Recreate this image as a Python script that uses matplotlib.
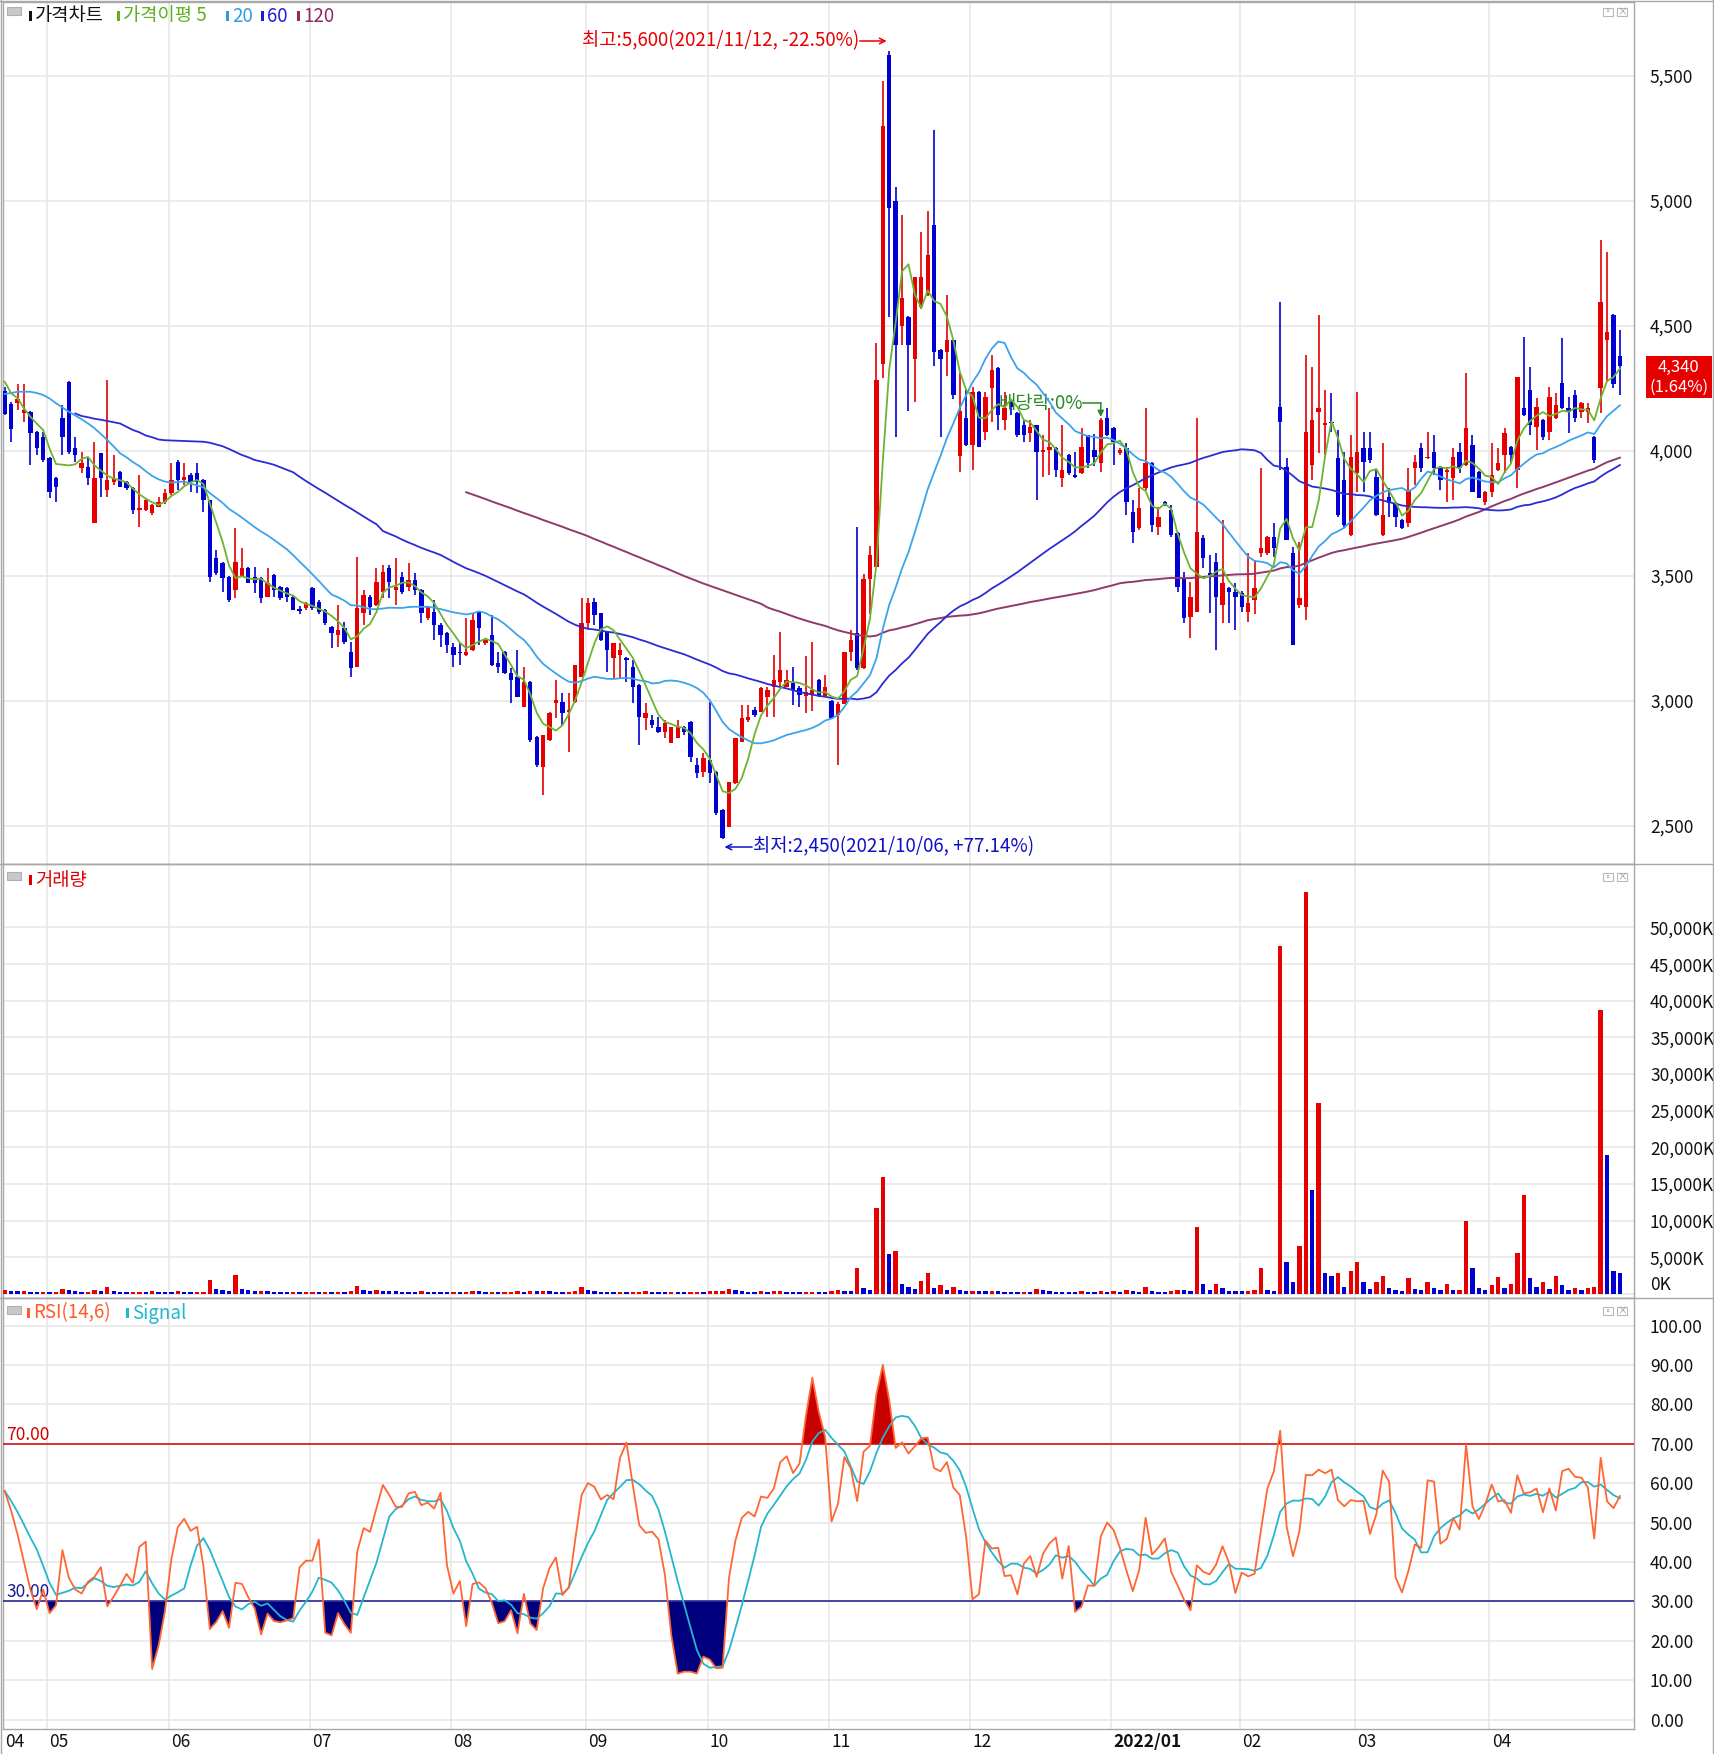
import numpy as np
import pandas as pd
import matplotlib
matplotlib.use("Agg")
import matplotlib.pyplot as plt
from matplotlib.patches import Rectangle
from matplotlib.lines import Line2D

plt.rcParams['font.family'] = ['Noto Sans CJK KR', 'DejaVu Sans']

# ---------------- data: daily candles (open, high, low, close) ----------------
apr21 = [(4240,4255,4145,4150),(4190,4195,4037,4090),(4191,4270,4164,4210),(4151,4270,4117,4164),
         (4157,4160,3944,4071),(4077,4080,3984,4011),(4057,4077,3957,3964)]
may21 = [(3971,3975,3811,3837),(3891,3895,3797,3857),(4131,4184,3984,4057),(4277,4280,3990,3997),
         (4011,4057,3957,3984),(3931,3997,3911,3951),(3937,3977,3864,3891),(3711,4037,3711,3891),
         (3991,3991,3817,3891),(3844,4284,3817,3884),(3877,3984,3864,3891),(3917,3920,3857,3857),
         (3877,3880,3845,3851),(3851,3855,3750,3764),(3764,3904,3697,3771),(3764,3810,3760,3804),
         (3751,3790,3745,3784),(3777,3817,3777,3797),(3797,3850,3790,3831)]
jun21 = [(3831,3951,3825,3884),(3957,3964,3844,3884),(3884,3951,3864,3897),(3904,3911,3837,3877),
         (3911,3951,3831,3877),(3884,3887,3757,3804),(3804,3806,3477,3497),(3571,3604,3505,3511),
         (3551,3555,3437,3491),(3497,3500,3397,3404),(3444,3691,3411,3557),(3497,3611,3495,3531),
         (3531,3535,3471,3471),(3497,3537,3431,3471),(3491,3495,3391,3411),(3417,3531,3415,3471),
         (3504,3507,3417,3444),(3457,3461,3404,3411),(3451,3455,3397,3417),(3417,3420,3364,3364),
         (3370,3380,3350,3360),(3371,3395,3365,3391)]
jul21 = [(3451,3455,3364,3371),(3397,3404,3350,3357),(3364,3370,3305,3311),(3297,3301,3211,3271),
         (3264,3384,3217,3284),(3291,3317,3230,3237),(3197,3237,3097,3131),(3137,3577,3137,3371),
         (3351,3444,3304,3424),(3417,3424,3344,3377),(3384,3531,3380,3477),(3437,3544,3411,3517),
         (3531,3544,3411,3477),(3444,3571,3384,3457),(3497,3517,3430,3437),(3457,3551,3440,3484),
         (3484,3511,3424,3444),(3444,3450,3311,3351),(3331,3380,3325,3377),(3357,3404,3244,3304),
         (3304,3311,3217,3264),(3271,3275,3191,3224)]
aug21 = [(3217,3231,3137,3184),(3197,3231,3144,3191),(3184,3331,3180,3197),(3204,3351,3200,3324),
         (3357,3357,3224,3291),(3231,3250,3225,3244),(3264,3344,3140,3144),(3151,3197,3111,3137),
         (3197,3200,3107,3111),(3111,3131,2991,3084),(3097,3204,3015,3017),(2977,3137,2975,3077),
         (3077,3080,2837,2844),(2857,2860,2737,2744),(2737,2864,2624,2864),(2844,2957,2840,2951),
         (2991,3084,2931,3004),(2997,3031,2904,2951),(2957,3031,2797,2964),(2997,3144,2994,3144),
         (3097,3411,3095,3311)]
sep21 = [(3311,3411,3291,3391),(3397,3411,3304,3344),(3351,3351,3240,3244),(3277,3277,3117,3204),
         (3171,3233,3091,3231),(3184,3231,3091,3204),(3171,3175,3077,3164),(3137,3164,2991,3057),
         (3064,3067,2824,2937),(2931,2991,2884,2951),(2924,2944,2891,2904),(2897,2937,2871,2877),
         (2877,2924,2851,2911),(2831,2897,2831,2897),(2851,2924,2851,2897),(2897,2900,2864,2877),
         (2917,2920,2757,2777),(2744,2771,2691,2711),(2717,2791,2697,2771)]
oct21 = [(2764,2997,2671,2711),(2717,2720,2545,2551),(2564,2567,2450,2451),(2497,2677,2495,2677),
         (2671,2851,2668,2851),(2837,2984,2835,2931),(2924,2984,2918,2937),(2964,2975,2937,2944),
         (2957,3057,2955,3051),(3017,3057,2937,3044),(3057,3184,2937,3084),(3077,3277,3057,3124),
         (3057,3124,3055,3084),(3071,3137,2984,3044),(3051,3060,2977,3024),(3020,3179,2953,3037),
         (3030,3236,2962,3045),(3085,3090,3015,3019),(3019,3104,3015,3056)]
nov21 = [(3000,3005,2930,2934),(2943,2995,2745,2990),(2990,3198,2988,3198),(3198,3283,3160,3245),
         (3274,3698,3123,3132),(3132,3509,3130,3490),(3490,3622,3349,3585),(3538,4434,3535,4283),
         (4349,5481,4292,5302),(5585,5600,4538,4972),(5000,5057,4057,4424),(4500,4943,4424,4613),
         (4538,4540,4160,4424),(4368,4698,4198,4698),(4575,4877,4570,4698),(4623,4962,4620,4783),
         (4906,5283,4340,4396),(4406,4410,4057,4368),(4396,4623,4300,4443),(4443,4446,4207,4226),
         (3981,4311,3915,4160),(4131,4244,4020,4024)]
dec21 = [(4024,4257,3924,4237),(4237,4240,4015,4017),(4077,4237,4044,4217),(4251,4384,4117,4324),
         (4331,4335,4084,4144),(4124,4237,4084,4171),(4204,4210,4144,4177),(4151,4155,4057,4064),
         (4104,4124,4037,4064),(4071,4124,4037,4097),(4104,4104,3804,3997),(3997,4064,3897,4004),
         (4004,4171,3904,4017),(4011,4017,3897,3924),(3891,4104,3857,3924),(3984,3990,3904,3911),
         (3904,3997,3891,3897),(3911,4091,3910,4017),(4064,4064,3931,3951),(4004,4070,3940,3977),
         (3951,4131,3917,4124),(4131,4171,4060,4064)]
jan22 = [(4091,4095,3944,4037),(3991,4011,3985,4004),(4011,4031,3744,3797),(3757,3804,3631,3677),
         (3691,3851,3684,3771),(3851,4171,3844,3951),(3951,3955,3677,3704),(3697,3777,3664,3737),
         (3797,3800,3780,3784),(3764,3784,3657,3664),(3671,3675,3437,3457),(3491,3517,3311,3331),
         (3337,3477,3251,3417),(3357,4131,3355,3677),(3651,3664,3531,3571),(3511,3584,3351,3504),
         (3557,3591,3204,3417),(3384,3724,3311,3471),(3454,3457,3311,3437),(3437,3471,3284,3417)]
feb22 = [(3431,3440,3357,3377),(3357,3591,3317,3391),(3404,3564,3350,3451),(3591,3931,3577,3614),
         (3591,3660,3585,3657),(3657,3711,3577,3611),(4177,4597,3924,4117),(3937,3971,3644,3644),
         (3591,3617,3224,3224),(3384,3637,3371,3411),(3377,4384,3324,4077),(3944,4337,3884,4124),
         (4157,4544,3991,4171),(4104,4244,3984,4111),(4117,4231,4077,4111),(3971,4084,3737,3744),
         (3884,3997,3697,3704),(3664,4064,3660,3977)]
mar22 = [(3911,4237,3837,3997),(4011,4077,3837,3957),(4011,4077,3951,3964),(3897,3924,3740,3744),
         (3664,4031,3660,3744),(3817,3851,3737,3791),(3791,3795,3697,3737),(3724,3730,3690,3691),
         (3711,3931,3697,3844),(3931,3984,3864,3957),(4011,4031,3917,3931),(3971,4077,3968,3977),
         (3997,4064,3904,3931),(3937,3940,3844,3884),(3917,3937,3797,3924),(3891,4011,3804,3977),
         (3997,4031,3911,3931),(3944,4311,3940,4091),(4024,4064,3835,3837),(3917,3920,3811,3811),
         (3797,3840,3784,3837)]
apr22 = [(3837,4031,3817,3904),(3924,4011,3920,3951),(3984,4091,3911,4071),(4017,4020,3951,3984),
         (3924,4297,3851,4297),(4171,4457,4140,4144),(4244,4337,4064,4104),(4097,4211,4004,4177),
         (4124,4130,4044,4057),(4077,4257,4044,4217),(4131,4231,4128,4184),(4271,4451,4168,4171),
         (4171,4217,4071,4157),(4224,4244,4117,4131),(4157,4197,4131,4191),(4157,4191,4111,4171),
         (4057,4060,3951,3964),(4251,4844,4151,4597),(4444,4797,4277,4477),(4544,4547,4251,4270),
         (4380,4484,4224,4340)]

# daily volume, thousands of shares
vol_apr21 = [500,450,350,400,300,280,330]
vol_may21 = [260,300,650,550,350,250,300,480,350,1000,420,300,260,280,320,260,350,300,280]
vol_jun21 = [260,400,300,260,280,300,1900,650,500,420,2600,700,480,400,430,350,300,300,280,330,250,260]
vol_jul21 = [300,280,300,260,330,280,380,1100,600,380,480,430,380,350,330,300,280,350,300,280,260,250]
vol_aug21 = [260,250,300,420,380,260,330,280,300,320,350,300,420,380,450,400,330,300,330,420,900]
vol_sep21 = [600,380,330,300,260,280,250,270,300,380,280,250,240,260,250,240,300,330,280]
vol_oct21 = [350,380,420,650,520,420,330,300,380,330,350,420,330,300,280,300,330,300,280]
vol_nov21 = [350,500,450,420,3600,800,500,11800,15900,5500,5800,1300,900,700,1800,2900,800,1200,600,900,500,400]
vol_dec21 = [450,380,350,400,350,330,300,280,300,280,650,500,380,330,300,280,280,350,300,280,380,300]
vol_jan22 = [350,300,500,400,330,900,450,330,300,350,600,500,380,9200,1400,500,1300,800,450,380]
vol_feb22 = [350,380,500,3500,600,450,47500,4300,1700,6600,54900,14200,26100,2900,2500,2800,1000,3100]
vol_mar22 = [4300,1700,700,1700,2500,800,500,400,2200,700,600,1700,800,500,1300,500,600,9900,3600,800,500]
vol_apr22 = [1200,2300,800,1300,5600,13500,2200,900,1700,700,2500,1200,600,800,500,800,1000,38800,19000,3100,2800]

ma5_head = [4277, 4231, 4211, 4171]                                   # bars 0-3
ma20_head = [4228, 4232, 4237, 4237, 4237, 4232, 4224, 4210, 4191, 4174,
             4157, 4142, 4127, 4110, 4091, 4068, 4044, 4018, 3991]    # bars 0-18
ma60_head = [4150, 4140, 4135, 4129, 4125, 4120, 4115, 4110, 4097, 4084,
             4075, 4062, 4055, 4046, 4043, 4042, 4041, 4040, 4039, 4038,
             4037, 4033, 4026, 4019, 4008, 3996, 3984, 3975, 3964, 3958,
             3952, 3945, 3935, 3925, 3915, 3897, 3880, 3864, 3848, 3833,
             3817, 3801, 3785, 3770, 3754, 3738, 3722, 3707]          # bars 11-58
ma120_head = [3835, 3826, 3817, 3808, 3798, 3789, 3780, 3771, 3761, 3752,
              3743, 3734, 3724, 3715, 3706, 3697, 3687, 3678, 3669, 3659,
              3648, 3638, 3627, 3617, 3606, 3596, 3585, 3575, 3564, 3554,
              3543, 3533, 3522, 3511, 3500, 3490, 3480, 3470, 3461, 3452,
              3443, 3434, 3425, 3416, 3407, 3398, 3389]               # bars 72-118
rsi_head = [58, 53, 47, 40, 33, 28, 33, 27, 29, 43, 36, 33, 32, 35]  # bars 0-13

month_labels = ['04', '05', '06', '07', '08', '09', '10', '11', '12', '2022/01', '02', '03', '04']
price_ticks = [2500, 3000, 3500, 4000, 4500, 5000, 5500]
vol_ticks = [0, 5000, 10000, 15000, 20000, 25000, 30000, 35000, 40000, 45000, 50000]
rsi_ticks = [0, 10, 20, 30, 40, 50, 60, 70, 80, 90, 100]

# ---------------- derived series ----------------
months = [apr21, may21, jun21, jul21, aug21, sep21, oct21, nov21, dec21, jan22, feb22, mar22, apr22]
vmonths = [vol_apr21, vol_may21, vol_jun21, vol_jul21, vol_aug21, vol_sep21, vol_oct21,
           vol_nov21, vol_dec21, vol_jan22, vol_feb22, vol_mar22, vol_apr22]
ohlc = np.array([b for m in months for b in m], float)
o, h, l, c = ohlc.T
vol = np.array([v for m in vmonths for v in m], float)
n = len(c)
x = np.arange(n)
month_start = np.cumsum([0] + [len(m) for m in months[:-1]])

closes = pd.Series(c)

def moving_avg(win, head, start):
    m = closes.rolling(win).mean().to_numpy()
    m[:start] = np.nan
    m[start:start + len(head)] = head
    return m

ma5 = moving_avg(5, ma5_head, 0)
ma20 = moving_avg(20, ma20_head, 0)
ma60 = moving_avg(60, ma60_head, 11)
ma120 = moving_avg(120, ma120_head, 72)

d = closes.diff()
gain = d.clip(lower=0).rolling(14).sum()
loss = (-d.clip(upper=0)).rolling(14).sum()
rsi = (100 * gain / (gain + loss)).to_numpy()
rsi[:len(rsi_head)] = rsi_head
sig = pd.Series(rsi).rolling(6, min_periods=1).mean().to_numpy()

# ---------------- figure ----------------
W, H = 1714, 1754
fig = plt.figure(figsize=(W / 100, H / 100), dpi=100)
fig.patch.set_facecolor('white')

def rect(x0, y0, x1, y1):
    return [x0 / W, 1 - y1 / H, (x1 - x0) / W, (y1 - y0) / H]

def P(xp, yp):
    return (xp / W, 1 - yp / H)

ax1 = fig.add_axes(rect(3, 2, 1634, 864))
ax2 = fig.add_axes(rect(3, 864, 1634, 1298))
ax3 = fig.add_axes(rect(3, 1298, 1634, 1729))

UP = '#E60000'
DN = '#0000D2'
GRID = '#e6e6e6'
FS = 12.5
LFS = 13.5

for ax in (ax1, ax2, ax3):
    ax.set_facecolor('white')
    ax.set_xlim(-0.27, 254.2)
    ax.yaxis.tick_right()
    ax.tick_params(axis='y', length=0, pad=11.5, labelsize=FS, colors='#111111')
    ax.tick_params(axis='x', length=0, labelbottom=False)
    ax.set_xticks(month_start[1:] - 0.35)
    ax.grid(True, color=GRID, lw=1.1)
    ax.set_axisbelow(True)
    for s in ax.spines.values():
        s.set_color('#a8a8a8')
        s.set_linewidth(1)

# ---- price panel ----
cols = np.where(c >= o, UP, DN)
ax1.vlines(x, l, h, colors=cols, lw=1.2, zorder=2)
body_lo = np.minimum(o, c)
body_h = np.maximum(np.abs(c - o), 6)
ax1.bar(x, body_h, bottom=body_lo, width=0.68, color=cols, linewidth=0, zorder=3)
ax1.plot(x, ma120, color='#8E3A6A', lw=1.4, zorder=4)
ax1.plot(x, ma60, color='#2B2BD6', lw=1.3, zorder=4)
ax1.plot(x, ma20, color='#3DA2EC', lw=1.3, zorder=4)
ax1.plot(x, ma5, color='#6CB431', lw=1.3, zorder=5)
ax1.set_ylim(2348, 5796)
ax1.set_yticks(price_ticks)
ax1.set_yticklabels([f'{t:,}' for t in price_ticks])

# high / low / ex-dividend notes
imax = int(np.argmax(h)); imin = int(np.argmin(l))
cur = c[-1]
hi_txt = f'최고:{h[imax]:,.0f}(2021/11/12, {(cur / h[imax] - 1) * 100:.2f}%)'
lo_txt = f'최저:{l[imin]:,.0f}(2021/10/06, +{(cur / l[imin] - 1) * 100:.2f}%)'
ax1.annotate('', xy=(imax - 0.4, 5640), xytext=(imax - 4.6, 5640),
             arrowprops=dict(arrowstyle='->', color=UP, lw=1.1, shrinkA=0, shrinkB=0))
ax1.text(imax - 4.7, 5640, hi_txt, color=UP, fontsize=LFS, ha='right', va='center')
ax1.annotate('', xy=(imin + 0.3, 2416), xytext=(imin + 4.6, 2416),
             arrowprops=dict(arrowstyle='->', color='#1010C8', lw=1.1, shrinkA=0, shrinkB=0))
ax1.text(imin + 4.8, 2416, lo_txt, color='#1010C8', fontsize=LFS, ha='left', va='center')
ex_i = 171
ax1.text(155.1, 4192, '배당락:0%', color='#2A8A2A', fontsize=LFS, ha='left', va='center')
ax1.plot([168.3, ex_i], [4192, 4192], color='#2A8A2A', lw=1.1)
ax1.annotate('', xy=(ex_i, h[ex_i] + 5), xytext=(ex_i, 4192),
             arrowprops=dict(arrowstyle='-|>', color='#2A8A2A', lw=1.1, mutation_scale=9,
                             shrinkA=0, shrinkB=0))

# ---- volume panel ----
vcols = [UP] + [UP if vol[i] > vol[i - 1] else DN for i in range(1, n)]
ax2.bar(x, vol, width=0.68, color=vcols, linewidth=0, zorder=3)
ax2.set_ylim(-546, 58663)
ax2.set_yticks(vol_ticks)
ax2.set_yticklabels([f'{t:,}K' for t in vol_ticks])
ax2.get_yticklabels()[0].set_va('bottom')

# ---- RSI panel ----
ax3.set_ylim(-2.4, 107)
ax3.set_yticks(rsi_ticks)
ax3.set_yticklabels([f'{t:.2f}' for t in rsi_ticks])
ax3.fill_between(x, rsi, 70, where=rsi > 70, interpolate=True, color='#C80000', lw=0, zorder=2)
ax3.fill_between(x, rsi, 30, where=rsi < 30, interpolate=True, color='#00007E', lw=0, zorder=2)
ax3.axhline(70, color='#D00000', lw=1.1, zorder=3)
ax3.axhline(30, color='#1A1A90', lw=1.1, zorder=3)
ax3.plot(x, sig, color='#25B6CE', lw=1.3, zorder=4)
ax3.plot(x, rsi, color='#FF6633', lw=1.3, zorder=5)
ax3.text(0.002, 70, '70.00', color='#D00000', fontsize=FS, ha='left', va='bottom',
         transform=ax3.get_yaxis_transform())
ax3.text(0.002, 30, '30.00', color='#1A1A90', fontsize=FS, ha='left', va='bottom',
         transform=ax3.get_yaxis_transform())

# date labels
tr = ax3.get_xaxis_transform()
lab_pos = [-0.25] + list(month_start[1:] - 0.35)
for xp, lab in zip(lab_pos, month_labels):
    ax3.text(xp + 0.35, -0.03, lab, transform=tr, ha='left', va='center', fontsize=FS,
             fontweight='bold' if '/' in lab else 'normal', color='#111111', clip_on=False)

# ---------------- chrome: borders, legends, icons, price box ----------------
for yy in (864, 1298):
    fig.add_artist(Line2D([0, 1], [1 - yy / H] * 2, color='#a8a8a8', lw=1))
fig.add_artist(Line2D([0, 1], [1 - 1 / H] * 2, color='#a8a8a8', lw=1))
fig.add_artist(Line2D([1 - 1 / W] * 2, [0, 1], color='#a8a8a8', lw=1))
fig.add_artist(Line2D([1 / W] * 2, [0, 1], color='#a8a8a8', lw=1))

def box(x0, y0, x1, y1, fc, ec=None, lw=0):
    fig.add_artist(Rectangle(P(x0, y1), (x1 - x0) / W, (y1 - y0) / H,
                             facecolor=fc, edgecolor=ec if ec else fc, lw=lw,
                             transform=fig.transFigure))

def legend_item(xm, yc, color, text, tcolor=None):
    box(xm, yc - 5, xm + 3, yc + 5, color)
    fig.text(*P(xm + 6, yc), text, color=tcolor or color, fontsize=LFS, ha='left', va='center')

for yc in (12, 877, 1311):
    box(7, yc - 5, 21, yc + 3, '#c8c8c8', '#b0b0b0', 0.8)
    box(1603, yc - 4, 1613, yc + 4, 'white', '#b8b8b8', 0.8)
    box(1617, yc - 4, 1627, yc + 4, 'white', '#b8b8b8', 0.8)
    fig.text(*P(1608, yc), '▫', fontsize=6, ha='center', va='center', color='#999999')
    fig.text(*P(1622, yc), '×', fontsize=7, ha='center', va='center', color='#999999')

legend_item(29, 16, '#111111', '가격차트')
legend_item(117, 16, '#5FAF1E', '가격이평 5')
legend_item(226, 16, '#2E9BE8', '20')
legend_item(261, 16, '#1E1ED0', '60')
legend_item(297, 16, '#8E2A60', '120')
legend_item(29, 880, '#E00000', '거래량')
legend_item(27, 1313, '#FF5A28', 'RSI(14,6)')
legend_item(126, 1313, '#1EB8D0', 'Signal')

# last price box
chg = (c[-1] / c[-2] - 1) * 100
box(1646, 356, 1712, 398, '#E60000')
fig.text(*P(1679, 367), f'{c[-1]:,.0f}', color='white', fontsize=12, ha='center', va='center')
fig.text(*P(1679, 387), f'({chg:.2f}%)', color='white', fontsize=12, ha='center', va='center')

fig.savefig('out.png', dpi=100, facecolor='white')
